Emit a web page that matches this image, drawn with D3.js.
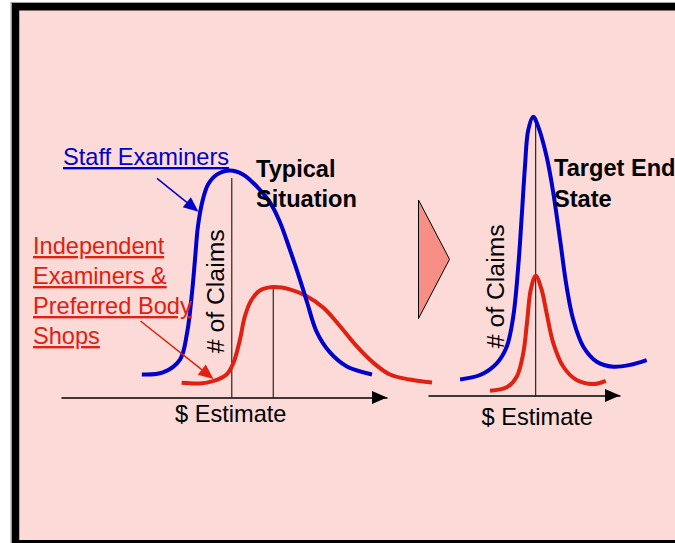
<!DOCTYPE html>
<html>
<head>
<meta charset="utf-8">
<script src="https://cdn.jsdelivr.net/npm/d3@7"></script>
<style>
  html, body { margin: 0; padding: 0; background: #ffffff; }
  svg { display: block; }
  text { font-family: "Liberation Sans", Arial, sans-serif; }
</style>
</head>
<body>
<svg id="chart" width="675" height="543"></svg>
<script>
// ---- Data: claim counts by dollar estimate (arbitrary units) ----
// Typical situation
const typicalStaff = [
  [24.8, 10.0], [31.3, 10.9], [36.5, 16.5], [38.7, 28.3], [40.2, 45.7],
  [41.1, 60.0], [42.0, 74.3], [43.3, 84.8], [45.1, 92.6], [47.9, 97.0],
  [51.8, 98.7], [55.8, 97.0], [60.1, 91.7], [64.1, 84.8], [67.2, 76.1],
  [70.2, 64.3], [73.3, 51.3], [75.5, 41.3], [78.5, 28.3], [82.5, 19.6],
  [87.7, 13.5], [95.4, 10.0]
];
const typicalIndependent = [
  [37.0, 6.4], [42.6, 6.1], [46.6, 7.1], [50.8, 10.0], [52.9, 15.1],
  [54.9, 25.2], [56.4, 35.3], [58.5, 42.6], [61.0, 46.5], [65.1, 48.0],
  [70.2, 47.0], [75.4, 44.0], [80.5, 39.0], [85.6, 31.0], [90.7, 22.3],
  [95.8, 15.1], [100.9, 10.0], [107.0, 7.8], [113.8, 6.5]
];
// Target end state
const targetStaff = [
  [16.7, 7.0], [27.1, 8.9], [35.8, 14.0], [41.0, 21.2], [44.4, 34.3],
  [47.0, 56.0], [48.8, 77.7], [50.5, 99.5], [52.2, 115.4], [54.8, 121.2],
  [57.4, 116.9], [61.8, 103.8], [65.3, 87.9], [68.8, 67.6], [72.2, 47.3],
  [75.7, 32.8], [80.9, 21.2], [87.9, 14.7], [96.5, 12.5], [105.2, 13.3],
  [113.9, 15.4]
];
const targetIndependent = [
  [32.3, 2.1], [41.0, 3.6], [46.2, 8.2], [49.6, 18.3], [51.7, 32.8],
  [53.5, 45.9], [56.1, 52.1], [59.2, 45.9], [61.8, 35.7], [65.3, 22.7],
  [70.5, 12.5], [77.4, 6.7], [86.1, 5.0], [92.6, 6.4]
];
// Reference lines: [estimate, top count]
const typicalRefLines = [[52.4, 95.4], [65.1, 48.0]];
const targetRefLines = [[56.1, 121.2]];

// Text
const staffLabel = "Staff Examiners";
const independentLabel = ["Independent", "Examiners &", "Preferred Body", "Shops"];
const typicalTitle = ["Typical", "Situation"];
const targetTitle = ["Target End", "State"];
const xLabel = "$ Estimate";
const yLabel = "# of Claims";

const BLUE = "#0000cc";
const RED = "#e02010";

const svg = d3.select("#chart");

// ---- Slide frame ----
svg.append("rect")
  .attr("x", 11).attr("y", 2.5).attr("width", 700).attr("height", 560)
  .attr("fill", "none").attr("stroke", "#a0a0a0").attr("stroke-width", 1);
svg.append("rect")
  .attr("x", 15.5).attr("y", 6.75).attr("width", 700).attr("height", 537)
  .attr("fill", "#fcdad8").attr("stroke", "#000").attr("stroke-width", 7.5);

// ---- Scales ----
const xL = d3.scaleLinear().domain([0, 100]).range([61, 387]);
const yL = d3.scaleLinear().domain([0, 100]).range([397.5, 167.5]);
const xR = d3.scaleLinear().domain([0, 100]).range([428, 620]);
const yR = d3.scaleLinear().domain([0, 100]).range([395.5, 165.5]);

function drawPanel(x, y, series, refLines) {
  const g = svg.append("g");
  // x axis (no ticks) with arrow head
  const axis = d3.axisBottom(x).tickValues([]).tickSizeOuter(0);
  const ag = g.append("g").attr("transform", `translate(0,${y(0)})`).call(axis);
  ag.select(".domain").attr("stroke", "#000").attr("stroke-width", 1.5);
  const [x0, x1] = x.range();
  const y0 = y(0);
  g.append("path")
    .attr("d", `M${x1},${y0} L${x1 - 15},${y0 - 6.5} L${x1 - 15},${y0 + 6.5} Z`)
    .attr("fill", "#000");

  // vertical reference lines
  g.selectAll("line.ref").data(refLines).join("line")
    .attr("class", "ref")
    .attr("x1", d => x(d[0])).attr("x2", d => x(d[0]))
    .attr("y1", y(0)).attr("y2", d => y(d[1]))
    .attr("stroke", "#000").attr("stroke-width", 1);

  const line = d3.line()
    .x(d => x(d[0])).y(d => y(d[1]))
    .curve(d3.curveCatmullRom.alpha(0.5));

  series.forEach(s => {
    g.append("path")
      .datum(s.data)
      .attr("d", line)
      .attr("fill", "none")
      .attr("stroke", s.color)
      .attr("stroke-width", 4);
  });
  return g;
}

drawPanel(xL, yL, [
  { data: typicalIndependent, color: RED },
  { data: typicalStaff, color: BLUE }
], typicalRefLines);

drawPanel(xR, yR, [
  { data: targetIndependent, color: RED },
  { data: targetStaff, color: BLUE }
], targetRefLines);

// ---- Arrow between the panels ----
svg.append("path")
  .attr("d", "M418.5,200 L418.5,318.5 L449.5,259.3 Z")
  .attr("fill", "#f78f86").attr("stroke", "#000").attr("stroke-width", 1);

// ---- Pointer arrows from labels to curves ----
function pointer(xa, ya, xb, yb, color) {
  const ang = Math.atan2(yb - ya, xb - xa);
  const len = 15, half = 6.5;
  const bx = xb - len * Math.cos(ang), by = yb - len * Math.sin(ang);
  svg.append("line")
    .attr("x1", xa).attr("y1", ya).attr("x2", bx).attr("y2", by)
    .attr("stroke", color).attr("stroke-width", 1.5);
  const px = -Math.sin(ang) * half, py = Math.cos(ang) * half;
  svg.append("path")
    .attr("d", `M${xb},${yb} L${bx + px},${by + py} L${bx - px},${by - py} Z`)
    .attr("fill", color);
}
pointer(157, 178.3, 198.5, 211.7, BLUE);
pointer(140.5, 321, 213.5, 379, RED);

// ---- Text ----
const fs = 23.6;
svg.append("text")
  .attr("x", 63).attr("y", 165)
  .attr("font-size", fs).attr("fill", BLUE)
  .style("text-decoration", "underline")
  .text(staffLabel);

svg.append("g").selectAll("text").data(independentLabel).join("text")
  .attr("x", 33).attr("y", (d, i) => 254 + i * 30)
  .attr("font-size", fs).attr("fill", RED)
  .style("text-decoration", "underline")
  .text(d => d);

svg.append("g").selectAll("text").data(typicalTitle).join("text")
  .attr("x", 256).attr("y", (d, i) => 176.5 + i * 30)
  .attr("font-size", fs).attr("font-weight", "bold").attr("fill", "#000")
  .text(d => d);

svg.append("g").selectAll("text").data(targetTitle).join("text")
  .attr("x", 554).attr("y", (d, i) => 176 + i * 31)
  .attr("font-size", fs).attr("font-weight", "bold").attr("fill", "#000")
  .text(d => d);

[[175, 421.5], [481.5, 425]].forEach(([tx, ty]) => {
  svg.append("text")
    .attr("x", tx).attr("y", ty)
    .attr("font-size", fs).attr("fill", "#000")
    .text(xLabel);
});

[[223.5, 353.3], [503.5, 348.3]].forEach(([tx, ty]) => {
  svg.append("text")
    .attr("transform", `translate(${tx},${ty}) rotate(-90)`)
    .attr("font-size", 24.8).attr("fill", "#000")
    .text(yLabel);
});
</script>
</body>
</html>
